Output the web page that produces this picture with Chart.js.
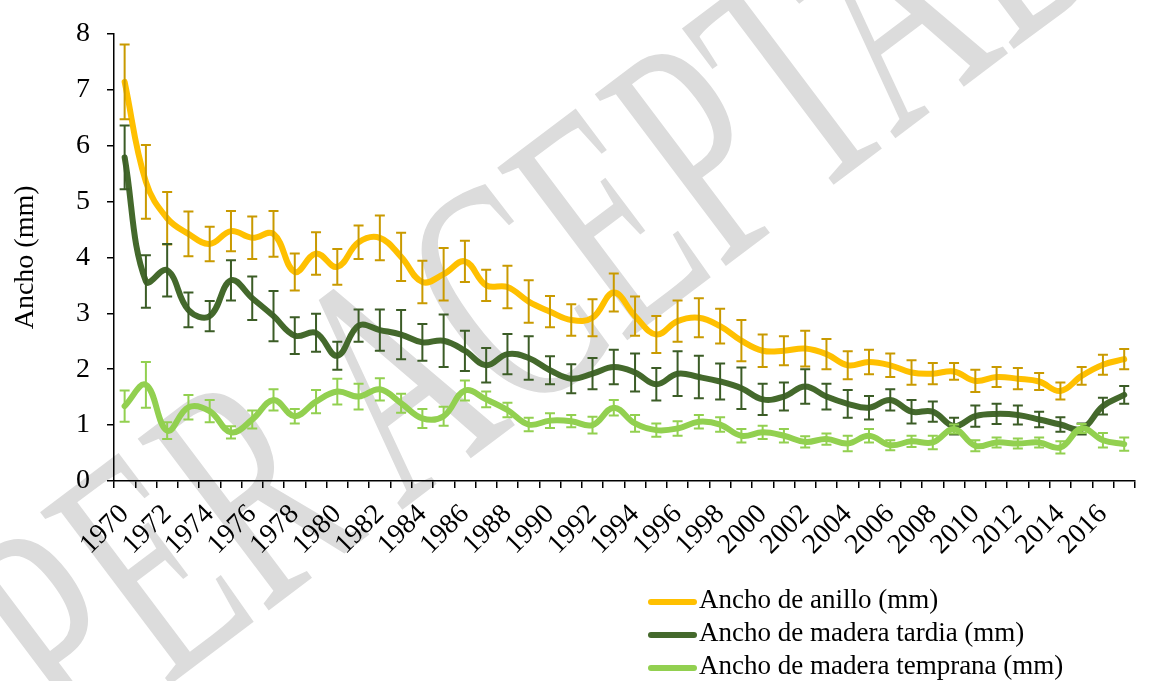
<!DOCTYPE html>
<html>
<head>
<meta charset="utf-8">
<script src="https://cdn.jsdelivr.net/npm/chart.js@4.4.0/dist/chart.umd.min.js"></script>
<style>
  html, body { margin: 0; padding: 0; background: #fff; overflow: hidden; }
  #wrap { position: relative; width: 1149px; height: 681px; overflow: hidden; }
  #mark {
    position: absolute; left: 497px; top: 300px;
    transform: translate(-50%, -50%) rotate(-37deg) scale(1, 1.65);
    font-family: "Liberation Serif", serif; font-size: 200px; line-height: 1;
    color: #dcdcdc; white-space: nowrap;
  }
  #chart { position: absolute; left: 0; top: 0; }
  #legend {
    position: absolute; left: 648px; top: 583px;
    font-family: "Liberation Serif", serif; font-size: 27px; color: #000;
  }
  #legend div { height: 33px; line-height: 33px; white-space: nowrap; }
  #legend span { display: inline-block; width: 49px; height: 6px; border-radius: 3px; vertical-align: middle; margin-right: 2px; }
</style>
</head>
<body>
<div id="wrap">
  <div id="mark">PAPER ACEPTADO</div>
  <canvas id="chart" width="1158" height="681"></canvas>
  <div id="legend"></div>
</div>
<script>
// years on the x axis
const years = [1970, 1971, 1972, 1973, 1974, 1975, 1976, 1977, 1978, 1979,
  1980, 1981, 1982, 1983, 1984, 1985, 1986, 1987, 1988, 1989,
  1990, 1991, 1992, 1993, 1994, 1995, 1996, 1997, 1998, 1999,
  2000, 2001, 2002, 2003, 2004, 2005, 2006, 2007, 2008, 2009,
  2010, 2011, 2012, 2013, 2014, 2015, 2016, 2017];

// Ancho de anillo (mm)
const anillo = [7.14, 5.35, 4.70, 4.42, 4.24, 4.47, 4.35, 4.42, 3.74, 4.07,
  3.83, 4.27, 4.35, 4.01, 3.56, 3.70, 3.93, 3.50, 3.47, 3.21,
  3.03, 2.88, 2.92, 3.37, 2.95, 2.62, 2.86, 2.92, 2.77, 2.51,
  2.33, 2.33, 2.37, 2.27, 2.07, 2.13, 2.07, 1.94, 1.92, 1.96,
  1.79, 1.86, 1.83, 1.78, 1.61, 1.88, 2.08, 2.18];
const anilloErr = [0.67, 0.66, 0.47, 0.40, 0.31, 0.36, 0.38, 0.41, 0.33, 0.38,
  0.32, 0.30, 0.40, 0.43, 0.38, 0.47, 0.37, 0.28, 0.38, 0.38,
  0.28, 0.28, 0.33, 0.34, 0.35, 0.33, 0.37, 0.35, 0.31, 0.37,
  0.29, 0.26, 0.32, 0.27, 0.25, 0.22, 0.21, 0.22, 0.19, 0.15,
  0.20, 0.18, 0.19, 0.15, 0.15, 0.16, 0.18, 0.18];

// Ancho de madera tardia (mm)
const tardia = [5.79, 3.57, 3.77, 3.06, 2.95, 3.59, 3.27, 2.95, 2.60, 2.65,
  2.24, 2.78, 2.70, 2.62, 2.48, 2.51, 2.33, 2.07, 2.27, 2.20,
  1.98, 1.83, 1.92, 2.04, 1.94, 1.73, 1.92, 1.86, 1.78, 1.66,
  1.46, 1.51, 1.69, 1.51, 1.38, 1.31, 1.45, 1.24, 1.24, 0.98,
  1.16, 1.20, 1.18, 1.10, 1.01, 0.93, 1.34, 1.54];
const tardiaErr = [0.57, 0.47, 0.47, 0.31, 0.27, 0.36, 0.39, 0.45, 0.33, 0.34,
  0.25, 0.29, 0.37, 0.44, 0.33, 0.47, 0.36, 0.31, 0.36, 0.39,
  0.25, 0.26, 0.28, 0.31, 0.34, 0.29, 0.40, 0.38, 0.32, 0.37,
  0.28, 0.25, 0.31, 0.23, 0.25, 0.21, 0.19, 0.21, 0.18, 0.15,
  0.19, 0.18, 0.17, 0.14, 0.13, 0.10, 0.15, 0.16];

// Ancho de madera temprana (mm)
const temprana = [1.34, 1.72, 0.90, 1.32, 1.25, 0.87, 1.10, 1.45, 1.16, 1.42,
  1.60, 1.51, 1.64, 1.39, 1.12, 1.16, 1.62, 1.46, 1.27, 1.01,
  1.08, 1.07, 1.00, 1.31, 1.03, 0.91, 0.94, 1.06, 1.01, 0.81,
  0.87, 0.81, 0.70, 0.75, 0.67, 0.81, 0.64, 0.71, 0.69, 0.93,
  0.63, 0.69, 0.67, 0.69, 0.60, 0.94, 0.73, 0.66];
const tempranaErr = [0.28, 0.41, 0.15, 0.22, 0.20, 0.11, 0.16, 0.19, 0.13, 0.21,
  0.23, 0.23, 0.20, 0.17, 0.17, 0.17, 0.18, 0.14, 0.13, 0.12,
  0.13, 0.11, 0.15, 0.14, 0.15, 0.12, 0.13, 0.12, 0.13, 0.12,
  0.12, 0.12, 0.10, 0.10, 0.14, 0.12, 0.09, 0.10, 0.12, 0.08,
  0.10, 0.09, 0.09, 0.09, 0.11, 0.08, 0.13, 0.12];

const serif = "'Liberation Serif', 'Times New Roman', serif";

// vertical error bars with caps, drawn right after each line
const errorBars = {
  id: 'errorBars',
  afterDatasetDraw(chart, args) {
    const ds = chart.data.datasets[args.index];
    const y = chart.scales.y;
    const ctx = chart.ctx;
    ctx.save();
    ctx.strokeStyle = ds.errColor;
    ctx.lineWidth = 2;
    args.meta.data.forEach((pt, i) => {
      const top = y.getPixelForValue(ds.data[i] + ds.errors[i]);
      const bot = y.getPixelForValue(ds.data[i] - ds.errors[i]);
      ctx.beginPath();
      ctx.moveTo(pt.x, top); ctx.lineTo(pt.x, bot);
      ctx.moveTo(pt.x - 5, top); ctx.lineTo(pt.x + 5, top);
      ctx.moveTo(pt.x - 5, bot); ctx.lineTo(pt.x + 5, bot);
      ctx.stroke();
    });
    ctx.restore();
  }
};

function series(label, data, errors, color, errColor, order) {
  return {
    label, data, errors, errColor, order,
    borderColor: color, backgroundColor: color,
    borderWidth: 6, pointRadius: 0, tension: 0.4,
    borderCapStyle: 'round', borderJoinStyle: 'round'
  };
}

const chart = new Chart(document.getElementById('chart'), {
  type: 'line',
  data: {
    labels: years,
    datasets: [
      series('Ancho de anillo (mm)', anillo, anilloErr, '#ffc000', '#c99a00', 3),
      series('Ancho de madera tardia (mm)', tardia, tardiaErr, '#44692c', '#3b5c26', 2),
      series('Ancho de madera temprana (mm)', temprana, tempranaErr, '#92d050', '#92d050', 1)
    ]
  },
  options: {
    responsive: false,
    animation: false,
    layout: { padding: { top: 26, right: 4, left: 0, bottom: 0 } },
    plugins: { legend: { display: false }, tooltip: { enabled: false } },
    scales: {
      x: {
        type: 'category',
        offset: true,
        afterFit: (s) => { s.height = 200; },
        grid: { offset: true, drawOnChartArea: false, drawTicks: true, tickLength: 7, color: '#000', lineWidth: 1.5 },
        border: { color: '#000', width: 1.5 },
        ticks: {
          autoSkip: false, maxRotation: 45, minRotation: 45, padding: 10,
          color: '#000', font: { family: serif, size: 28 },
          callback: (v, i) => (i % 2 === 0 ? years[i] : '')
        }
      },
      y: {
        min: 0, max: 8,
        afterFit: (s) => { s.width = 114; },
        grid: { drawOnChartArea: false, drawTicks: true, tickLength: 7, color: '#000', lineWidth: 1.5 },
        border: { color: '#000', width: 1.5 },
        ticks: { stepSize: 1, padding: 17, color: '#000', font: { family: serif, size: 28 } },
        title: { display: true, text: 'Ancho (mm)', color: '#000', font: { family: serif, size: 28 }, padding: { top: 9, bottom: 0 } }
      }
    }
  },
  plugins: [errorBars]
});

// legend below the chart, one row per series
const legend = document.getElementById('legend');
chart.data.datasets.forEach((ds) => {
  const row = document.createElement('div');
  const sw = document.createElement('span');
  sw.style.background = ds.borderColor;
  row.appendChild(sw);
  row.appendChild(document.createTextNode(ds.label));
  legend.appendChild(row);
});
</script>
</body>
</html>
